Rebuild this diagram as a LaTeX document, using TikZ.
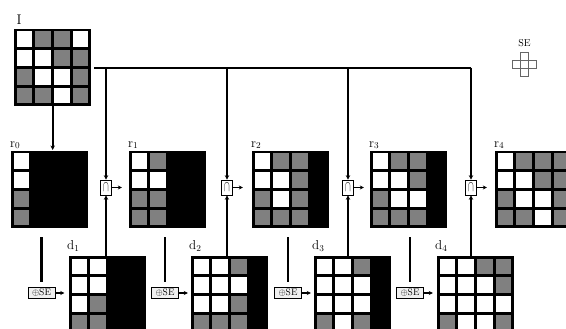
\documentclass[tikz,border=0pt]{standalone}
\usepackage{graphicx}
\usetikzlibrary{arrows.meta,calc}
\definecolor{W}{RGB}{255,255,255}
\definecolor{G}{RGB}{128,128,128}
\definecolor{B}{RGB}{0,0,0}
\tikzset{
 gridbox/.style={fill=black, minimum width=77pt, minimum height=77pt, inner sep=0pt, anchor=north west, draw=none},
 capbox/.style={draw, line width=0.7pt, fill=white, minimum width=11pt, minimum height=15pt, inner sep=0pt},
 sebox/.style={draw, line width=0.6pt, fill=gray!12, minimum width=27pt, minimum height=10.5pt, inner sep=0.5pt, font=\fontsize{9.5}{9.5}\selectfont},
 lbl/.style={anchor=base west, inner sep=0pt, font=\fontsize{13}{13}\selectfont},
 bus/.style={line width=2.1pt},
 arr/.style={line width=2.1pt, -{Stealth[length=4.5pt,width=4.5pt]}},
 sarr/.style={line width=1.3pt, -{Stealth[length=4pt,width=4pt]}},
 secell/.style={draw=black!60, line width=0.6pt},
}
\newcommand\drawcells[2]{%
 \foreach \row [count=\ii from 0] in {#2} {%
  \foreach \cc [count=\jj from 0] in \row {%
   \fill[fill=\cc] ($(#1.north west)+(2.5+\jj*18.83,2.5+\ii*18.83)$) rectangle +(15.5,15.5);
  }}}
\begin{document}
\begin{tikzpicture}[x=1pt,y=-1pt]
\useasboundingbox (0,0) rectangle (566,329);
% grids
\node[gridbox] (I) at (14,29) {};
\node[gridbox] (r0) at (11,151) {};
\node[gridbox] (r1) at (129,151) {};
\node[gridbox] (r2) at (252,151) {};
\node[gridbox] (r3) at (370,151) {};
\node[gridbox] (r4) at (495,151) {};
\node[gridbox] (d1) at (69,256) {};
\node[gridbox] (d2) at (191,256) {};
\node[gridbox] (d3) at (314,256) {};
\node[gridbox] (d4) at (437,256) {};
\drawcells{I}{{W,G,G,W},{W,W,G,G},{G,W,W,G},{G,G,W,G}}
\drawcells{r0}{{W,B,B,B},{W,B,B,B},{G,B,B,B},{G,B,B,B}}
\drawcells{r1}{{W,G,B,B},{W,W,B,B},{G,G,B,B},{G,G,B,B}}
\drawcells{r2}{{W,G,G,B},{W,W,G,B},{G,W,G,B},{G,G,G,B}}
\drawcells{r3}{{W,G,G,B},{W,W,G,B},{G,W,W,B},{G,G,G,B}}
\drawcells{r4}{{W,G,G,G},{W,W,G,G},{G,W,W,G},{G,G,W,G}}
\drawcells{d1}{{W,W,B,B},{W,W,B,B},{W,G,B,B},{G,G,B,B}}
\drawcells{d2}{{W,W,G,B},{W,W,W,B},{W,W,G,B},{G,G,G,B}}
\drawcells{d3}{{W,W,G,B},{W,W,W,B},{W,W,W,B},{G,W,G,B}}
\drawcells{d4}{{W,W,G,G},{W,W,W,G},{W,W,W,W},{G,W,W,G}}
% labels
\node[lbl, font=\fontsize{14}{14}\selectfont] (lI) at ($(I.north west)+(2.5,-4)$) {I};
\foreach \k in {0,...,4} {\node[lbl] (lr\k) at ($(r\k.north west)+(-1,-4)$) {r$_{\k}$};}
\foreach \k in {1,...,4} {\node[lbl] (ld\k) at ($(d\k.north west)+(-2,-6)$) {d$_{\k}$};}
% intersection boxes
\node[capbox] (n1) at (106,187.5) {\scalebox{0.85}[1.5]{$\cap$}};
\node[capbox] (n2) at (227,187.5) {\scalebox{0.85}[1.5]{$\cap$}};
\node[capbox] (n3) at (348,187.5) {\scalebox{0.85}[1.5]{$\cap$}};
\node[capbox] (n4) at (471,187.5) {\scalebox{0.85}[1.5]{$\cap$}};
% dilation boxes
\node[sebox] (s1) at (41.5,293) {$\oplus$SE};
\node[sebox] (s2) at (165,293) {$\oplus$SE};
\node[sebox] (s3) at (288,293) {$\oplus$SE};
\node[sebox] (s4) at (410,293) {$\oplus$SE};
% connectors
\draw[arr] (I.south) -- ($(I.south |- r0.north)+(0,-1)$);
\coordinate (b0) at ($(I.east)+(3,0)$);
\draw[bus] (b0) -- (b0 -| n4.north);
\foreach \k/\r/\d in {1/0/1,2/1/2,3/2/3,4/3/4} {
  \draw[arr] (b0 -| n\k.north) -- (n\k.north);
  \draw[arr] (d\d.north -| n\k.south) -- (n\k.south);
  \draw[sarr] (n\k.east) -- ++(10,0);
  \draw[bus] ($(s\k.north |- r\r.south)+(0,9)$) -- ($(s\k.north)+(0,-5)$);
  \draw[sarr] (s\k.east) -- ++(9,0);
}
% structuring element
\node[font=\fontsize{10}{10}\selectfont, inner sep=0pt] (selbl) at (524.5,43) {SE};
\foreach \dx/\dy in {0/0,0/-8,0/8,-8/0,8/0}
  \draw[secell] ($(524.5,64)+(\dx-4,\dy-4)$) rectangle +(8,8);
\end{tikzpicture}
\end{document}
